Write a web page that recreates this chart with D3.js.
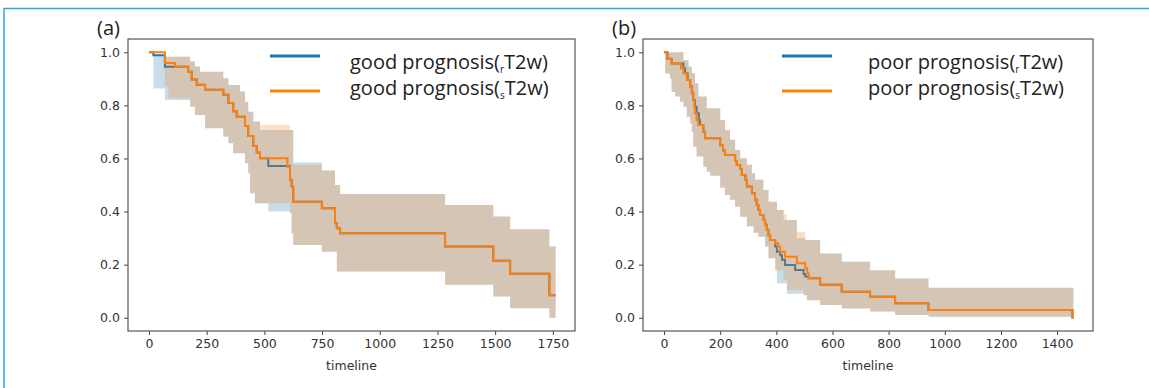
<!DOCTYPE html>
<html>
<head>
<meta charset="utf-8">
<script src="https://cdn.jsdelivr.net/npm/d3@7"></script>
<style>
  body { margin: 0; background: #fff; }
  svg { display: block; }
</style>
</head>
<body>
<svg></svg>
<script>
// survival curves, [time, survival]
var aBlueKM = [[0,1.0],[19,0.989],[69,0.945],[170,0.927],[185,0.897],[207,0.878],[243,0.859],[322,0.840],[344,0.809],[365,0.778],[380,0.757],[416,0.722],[430,0.685],[452,0.647],[467,0.622],[481,0.601],[517,0.572],[611,0.52],[618,0.494],[625,0.437],[749,0.412],[806,0.356],[814,0.337],[828,0.318],[1283,0.268],[1492,0.215],[1565,0.166],[1735,0.085]];
var aBlueHi = [[0,1.0],[19,0.99],[69,0.983],[178,0.965],[199,0.946],[221,0.927],[322,0.902],[344,0.877],[394,0.852],[416,0.814],[430,0.776],[452,0.739],[481,0.707],[625,0.585],[749,0.555],[806,0.5],[828,0.466],[1283,0.425],[1492,0.381],[1565,0.333],[1735,0.268]];
var aBlueLo = [[0,1.0],[19,0.864],[69,0.82],[178,0.795],[199,0.764],[243,0.714],[322,0.682],[344,0.657],[365,0.62],[416,0.582],[430,0.544],[438,0.469],[459,0.431],[517,0.40],[611,0.394],[618,0.318],[625,0.274],[749,0.249],[814,0.174],[1283,0.124],[1492,0.08],[1565,0.036],[1735,0.0]];
var aOrangeKM = [[0,1.0],[69,0.96],[113,0.945],[170,0.927],[185,0.897],[207,0.878],[243,0.859],[322,0.840],[344,0.809],[365,0.778],[380,0.757],[416,0.722],[430,0.685],[452,0.647],[467,0.622],[481,0.601],[600,0.569],[611,0.52],[618,0.494],[625,0.437],[749,0.412],[806,0.356],[814,0.337],[828,0.318],[1283,0.268],[1492,0.215],[1565,0.166],[1735,0.085]];
var aOrangeHi = [[0,1.0],[69,0.983],[178,0.965],[199,0.946],[221,0.927],[322,0.902],[344,0.877],[394,0.852],[416,0.814],[430,0.776],[452,0.739],[481,0.726],[611,0.707],[625,0.575],[749,0.555],[806,0.5],[828,0.466],[1283,0.425],[1492,0.381],[1565,0.333],[1735,0.268]];
var aOrangeLo = [[0,1.0],[69,0.871],[84,0.827],[178,0.795],[199,0.764],[243,0.714],[322,0.682],[344,0.657],[365,0.62],[416,0.582],[430,0.544],[438,0.469],[459,0.431],[611,0.394],[618,0.318],[625,0.274],[749,0.249],[814,0.174],[1283,0.124],[1492,0.08],[1565,0.036],[1735,0.0]];
var aBlueEnd = 1762, aOrangeEnd = 1762;

var bBlueKM = [[0,1.0],[12,0.976],[27,0.958],[69,0.94],[75,0.921],[84,0.896],[93,0.871],[99,0.846],[104,0.82],[110,0.795],[116,0.77],[124,0.745],[128,0.726],[140,0.701],[146,0.676],[200,0.65],[210,0.63],[217,0.613],[253,0.59],[259,0.575],[271,0.56],[277,0.538],[290,0.519],[295,0.494],[313,0.469],[324,0.444],[330,0.425],[336,0.406],[342,0.387],[354,0.368],[360,0.35],[366,0.331],[372,0.31],[378,0.293],[396,0.268],[402,0.249],[414,0.235],[420,0.218],[431,0.199],[467,0.18],[497,0.165],[503,0.155],[515,0.149],[556,0.124],[633,0.098],[734,0.079],[823,0.055],[942,0.029],[1455,0.0]];
var bBlueHi = [[0,1.0],[69,0.97],[87,0.946],[99,0.921],[110,0.883],[122,0.833],[152,0.789],[200,0.745],[217,0.707],[235,0.67],[253,0.632],[271,0.601],[295,0.576],[313,0.544],[324,0.52],[354,0.481],[372,0.437],[402,0.406],[426,0.368],[473,0.30],[503,0.293],[556,0.242],[633,0.211],[734,0.179],[823,0.148],[942,0.113]];
var bBlueLo = [[0,1.0],[4,0.92],[21,0.9],[27,0.85],[39,0.833],[57,0.814],[69,0.795],[81,0.757],[93,0.732],[99,0.70],[104,0.644],[116,0.607],[140,0.569],[152,0.55],[164,0.535],[200,0.49],[217,0.462],[235,0.444],[253,0.418],[271,0.38],[295,0.345],[319,0.32],[336,0.305],[360,0.268],[372,0.224],[396,0.179],[402,0.13],[438,0.09],[497,0.085],[509,0.066],[556,0.048],[633,0.035],[734,0.023],[823,0.01],[942,0.004]];
var bOrangeKM = [[0,1.0],[12,0.976],[27,0.958],[60,0.94],[69,0.921],[81,0.896],[93,0.871],[99,0.846],[104,0.82],[108,0.795],[110,0.77],[116,0.745],[122,0.726],[140,0.701],[146,0.676],[200,0.65],[210,0.63],[217,0.613],[253,0.59],[259,0.575],[271,0.56],[277,0.538],[290,0.519],[295,0.494],[313,0.469],[324,0.444],[330,0.425],[336,0.406],[342,0.387],[354,0.368],[360,0.35],[366,0.331],[372,0.31],[378,0.293],[396,0.281],[407,0.268],[414,0.249],[431,0.23],[473,0.205],[503,0.186],[510,0.168],[515,0.149],[556,0.124],[633,0.098],[734,0.079],[823,0.055],[942,0.029],[1455,0.0]];
var bOrangeHi = [[0,1.0],[69,0.97],[87,0.946],[99,0.921],[110,0.883],[122,0.833],[152,0.789],[200,0.745],[217,0.707],[235,0.67],[253,0.632],[271,0.601],[295,0.576],[313,0.544],[324,0.52],[354,0.481],[372,0.437],[402,0.406],[426,0.39],[438,0.368],[473,0.324],[503,0.293],[556,0.242],[633,0.211],[734,0.179],[823,0.148],[942,0.113]];
var bOrangeLo = [[0,1.0],[4,0.92],[21,0.9],[27,0.85],[39,0.833],[57,0.814],[69,0.795],[81,0.757],[93,0.732],[99,0.70],[104,0.644],[116,0.607],[140,0.569],[152,0.55],[164,0.535],[200,0.49],[217,0.462],[235,0.444],[253,0.418],[271,0.38],[295,0.345],[319,0.32],[336,0.305],[360,0.268],[372,0.224],[396,0.179],[426,0.141],[438,0.104],[497,0.085],[509,0.066],[556,0.048],[633,0.035],[734,0.023],[823,0.01],[942,0.004]];
var bBlueEnd = 1458, bOrangeEnd = 1458;

var aTicks = [0,250,500,750,1000,1250,1500,1750];
var bTicks = [0,200,400,600,800,1000,1200,1400];
var yTicks = [0,0.2,0.4,0.6,0.8,1.0];
var aLegend = ["good prognosis(", "good prognosis("];
var bLegend = ["poor prognosis(", "poor prognosis("];
var legendSubs = ["r", "s"];
var panelNames = ["(a)", "(b)"];

var screen = { width: 1149, height: 388 };
var blue = "#1f77b4", orange = "#ff7f0e";

var svg = d3.select("svg")
            .attr("width", screen.width)
            .attr("height", screen.height);

// cyan frame of the figure (top and left only)
svg.append("path")
   .attr("d", "M4,388 L4,8.5 L1149,8.5")
   .attr("fill", "none")
   .attr("stroke", "#2aa9e0")
   .attr("stroke-width", 1.5);

var yScale = d3.scaleLinear()
               .domain([-0.05, 1.05])
               .range([331, 39]);

var stepAt = function(arr, t)
{
  var v = arr[0][1];
  arr.forEach(function(p) { if (p[0] <= t) v = p[1]; });
  return v;
};

var drawPanel = function(p)
{
  var xScale = d3.scaleLinear()
                 .domain(p.xDomain)
                 .range(p.xRange);
  var g = svg.append("g").classed("panel", true);

  var series = [
    { km: p.blueKM, hi: p.blueHi, lo: p.blueLo, end: p.blueEnd, color: blue },
    { km: p.orangeKM, hi: p.orangeHi, lo: p.orangeLo, end: p.orangeEnd, color: orange }
  ];

  series.forEach(function(s)
  {
    // band: merge the times of both bounds
    var times = d3.sort(Array.from(new Set(s.hi.map(function(d){return d[0];}).concat(s.lo.map(function(d){return d[0];})))));
    times.push(s.end);
    var band = times.map(function(t) { return { t: t, hi: stepAt(s.hi, t), lo: stepAt(s.lo, t) }; });

    g.append("path")
     .datum(band)
     .attr("fill", s.color)
     .attr("fill-opacity", 0.25)
     .attr("stroke", "none")
     .attr("d", d3.area()
                  .curve(d3.curveStepAfter)
                  .x(function(d) { return xScale(d.t); })
                  .y0(function(d) { return yScale(d.lo); })
                  .y1(function(d) { return yScale(d.hi); }));

    var line = s.km.concat([[s.end, s.km[s.km.length - 1][1]]]);
    g.append("path")
     .datum(line)
     .attr("fill", "none")
     .attr("stroke", s.color)
     .attr("stroke-width", 2)
     .attr("d", d3.line()
                  .curve(d3.curveStepAfter)
                  .x(function(d) { return xScale(d[0]); })
                  .y(function(d) { return yScale(d[1]); }));
  });

  // axes
  var xAxis = d3.axisBottom(xScale).tickValues(p.ticks).tickFormat(d3.format("d")).tickSize(4).tickPadding(4).tickSizeOuter(0);
  var yAxis = d3.axisLeft(yScale).tickValues(yTicks).tickFormat(d3.format(".1f")).tickSize(4).tickPadding(4).tickSizeOuter(0);

  var xa = g.append("g").classed("xAxis", true)
            .attr("transform", "translate(0," + 331 + ")")
            .call(xAxis);
  var ya = g.append("g").classed("yAxis", true)
            .attr("transform", "translate(" + p.xRange[0] + ",0)")
            .call(yAxis);
  [xa, ya].forEach(function(a)
  {
    a.select(".domain").remove();
    a.selectAll("line").attr("stroke", "#444");
    a.selectAll("text").attr("fill", "#333").style("font-family", "DejaVu Sans").style("font-size", "12.5px");
  });

  // frame
  g.append("rect")
   .attr("x", p.xRange[0])
   .attr("y", 39)
   .attr("width", p.xRange[1] - p.xRange[0])
   .attr("height", 331 - 39)
   .attr("fill", "none")
   .attr("stroke", "#555")
   .attr("stroke-width", 1.2);

  g.append("text")
   .attr("x", (p.xRange[0] + p.xRange[1]) / 2)
   .attr("y", 370)
   .attr("text-anchor", "middle")
   .attr("fill", "#333")
   .style("font-family", "DejaVu Sans")
   .style("font-size", "12.5px")
   .text("timeline");

  g.append("text")
   .attr("x", p.nameX)
   .attr("y", 35)
   .attr("fill", "#222")
   .style("font-family", "Open Sans")
   .style("font-size", "20px")
   .text(p.name);

  // legend
  var rows = [{ color: blue, y: 56 }, { color: orange, y: 91 }];
  rows.forEach(function(r, i)
  {
    g.append("line")
     .attr("x1", p.legendX).attr("x2", p.legendX + 50)
     .attr("y1", r.y).attr("y2", r.y)
     .attr("stroke", r.color)
     .attr("stroke-width", 3);
    var t = g.append("text")
             .attr("x", p.legendTextX)
             .attr("y", 68.5 + i * 26.5)
             .attr("fill", "#222")
             .style("font-family", "Open Sans")
             .style("font-size", "20px");
    t.append("tspan").text(p.legend[i]);
    t.append("tspan").attr("dy", 4).style("font-size", "10px").text(legendSubs[i]);
    t.append("tspan").attr("dy", -4).text("T2w)");
  });
};

drawPanel({
  xDomain: [-91, 1846], xRange: [128, 575], ticks: aTicks,
  blueKM: aBlueKM, blueHi: aBlueHi, blueLo: aBlueLo, blueEnd: aBlueEnd,
  orangeKM: aOrangeKM, orangeHi: aOrangeHi, orangeLo: aOrangeLo, orangeEnd: aOrangeEnd,
  name: panelNames[0], nameX: 97, legend: aLegend, legendX: 270, legendTextX: 350
});
drawPanel({
  xDomain: [-75, 1528], xRange: [643, 1093], ticks: bTicks,
  blueKM: bBlueKM, blueHi: bBlueHi, blueLo: bBlueLo, blueEnd: bBlueEnd,
  orangeKM: bOrangeKM, orangeHi: bOrangeHi, orangeLo: bOrangeLo, orangeEnd: bOrangeEnd,
  name: panelNames[1], nameX: 612, legend: bLegend, legendX: 782, legendTextX: 868
});
</script>
</body>
</html>
